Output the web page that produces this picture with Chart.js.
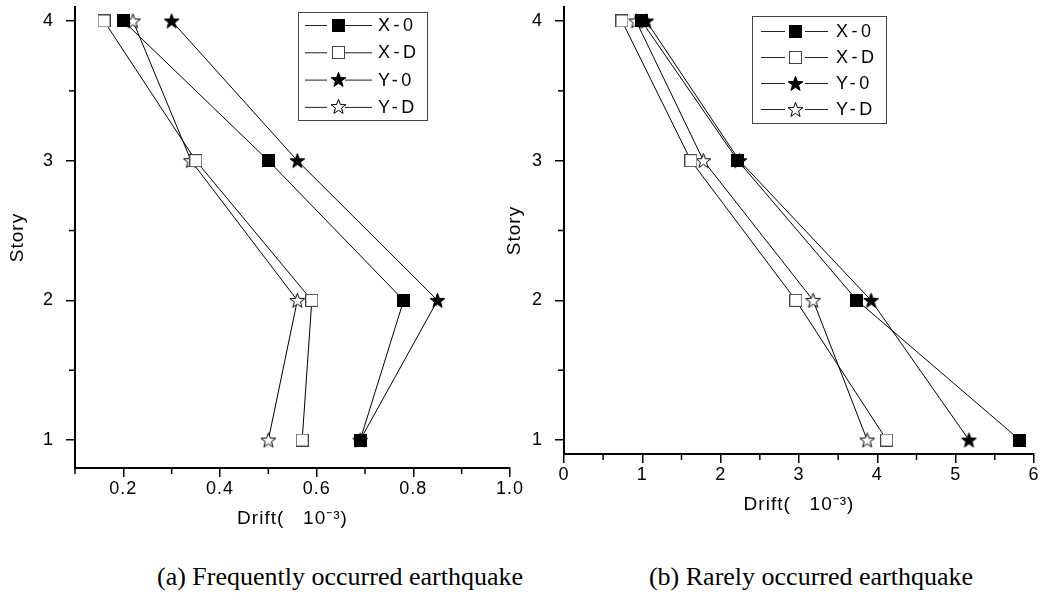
<!DOCTYPE html>
<html>
<head>
<meta charset="utf-8">
<script src="https://cdn.jsdelivr.net/npm/chart.js@4.4.0/dist/chart.umd.min.js"></script>
<style>
  body { margin: 0; background: #fff; width: 1045px; height: 597px; position: relative; overflow: hidden; }
  .box { position: absolute; top: 0; }
  .cap { position: absolute; top: 562px; font-family: "Liberation Serif", "Times New Roman", serif; font-size: 26px; color: #000; white-space: nowrap; transform: translateX(-50%); }
</style>
</head>
<body>
<div class="box" style="left:0"><canvas id="chartA" width="530" height="540"></canvas></div>
<div class="box" style="left:500px"><canvas id="chartB" width="545" height="540"></canvas></div>
<div class="cap" style="left:340px">(a) Frequently occurred earthquake</div>
<div class="cap" style="left:811px">(b) Rarely occurred earthquake</div>
<script>
// stories on the vertical axis
const stories = [1, 2, 3, 4];
const seriesNames = ['X-0', 'X-D', 'Y-0', 'Y-D'];

// (a) frequently occurred earthquake, drift (10^-3) per story 1..4
const freqX0 = [0.69, 0.78, 0.50, 0.20];
const freqXD = [0.57, 0.59, 0.35, 0.16];
const freqY0 = [0.69, 0.85, 0.56, 0.30];
const freqYD = [0.50, 0.56, 0.34, 0.22];

// (b) rarely occurred earthquake
const rareX0 = [5.82, 3.74, 2.22, 0.99];
const rareXD = [4.12, 2.96, 1.62, 0.74];
const rareY0 = [5.17, 3.92, 2.24, 1.05];
const rareYD = [3.87, 3.18, 1.78, 0.92];

// ticks
const freqXTicks = [0.2, 0.4, 0.6, 0.8, 1.0];
const freqXMinor = [0.1, 0.3, 0.5, 0.7, 0.9];
const rareXTicks = [0, 1, 2, 3, 4, 5, 6];
const rareXMinor = [0.5, 1.5, 2.5, 3.5, 4.5, 5.5];
const storyTicks = [1, 2, 3, 4];
const storyMinor = [1.5, 2.5, 3.5];

const xTitle = 'Drift(   10⁻³)';
const yTitle = 'Story';

Chart.defaults.font.family = '"Liberation Sans", Arial, sans-serif';
Chart.defaults.color = '#000';

// marker pictures (Origin style symbols)
function marker(shape, fill, stroke) {
  const c = document.createElement('canvas');
  const s = shape === 'star' ? 17 : 13;
  c.width = s; c.height = s;
  const g = c.getContext('2d');
  g.fillStyle = fill;
  g.strokeStyle = stroke;
  g.lineWidth = 1;
  if (shape === 'square') {
    g.fillRect(0.5, 0.5, s - 1, s - 1);
    g.strokeRect(0.5, 0.5, s - 1, s - 1);
  } else {
    const cx = s / 2, cy = s / 2 + 0.6, ro = 7.8, ri = 3.2;
    g.beginPath();
    for (let i = 0; i < 10; i++) {
      const r = i % 2 ? ri : ro;
      const a = -Math.PI / 2 + i * Math.PI / 5;
      g.lineTo(cx + r * Math.cos(a), cy + r * Math.sin(a));
    }
    g.closePath();
    g.fill();
    g.stroke();
  }
  return c;
}
const markers = [
  marker('square', '#000', '#000'),
  marker('square', '#fff', '#444'),
  marker('star', '#000', '#000'),
  marker('star', '#fff', '#000')
];

// the Origin export has slightly spaced lettering
const spacing = {
  id: 'spacing',
  beforeDraw(chart) { chart.ctx.letterSpacing = '1px'; }
};

const minorTicks = {
  id: 'minorTicks',
  afterDraw(chart, args, o) {
    const ctx = chart.ctx, xs = chart.scales.x, ys = chart.scales.y;
    ctx.save();
    ctx.strokeStyle = '#000';
    ctx.lineWidth = 1.5;
    o.x.forEach(v => {
      const p = xs.getPixelForValue(v);
      ctx.beginPath(); ctx.moveTo(p, xs.top); ctx.lineTo(p, xs.top + o.len); ctx.stroke();
    });
    o.y.forEach(v => {
      const p = ys.getPixelForValue(v);
      ctx.beginPath(); ctx.moveTo(ys.right, p); ctx.lineTo(ys.right - o.len, p); ctx.stroke();
    });
    ctx.restore();
  }
};

const lineLegend = {
  id: 'lineLegend',
  afterDraw(chart, args, o) {
    const ctx = chart.ctx;
    ctx.save();
    ctx.strokeStyle = '#444';
    ctx.lineWidth = 1;
    ctx.strokeRect(o.left + 0.5, o.top + 0.5, o.width, o.height);
    ctx.font = '18px "Liberation Sans", Arial, sans-serif';
    ctx.letterSpacing = '3.5px';
    ctx.fillStyle = '#000';
    ctx.textBaseline = 'middle';
    chart.data.datasets.forEach((ds, i) => {
      const y = o.top + o.row0 + i * o.rowGap;
      const mx = o.left + o.markX;
      ctx.strokeStyle = '#222';
      ctx.beginPath();
      ctx.moveTo(o.left + o.line1[0], y + 0.5); ctx.lineTo(o.left + o.line1[1], y + 0.5);
      ctx.moveTo(o.left + o.line2[0], y + 0.5); ctx.lineTo(o.left + o.line2[1], y + 0.5);
      ctx.stroke();
      const img = ds.pointStyle;
      ctx.drawImage(img, Math.round(mx - img.width / 2), Math.round(y - img.height / 2));
      ctx.fillText(ds.label, o.left + o.textX, y + 1);
    });
    ctx.restore();
  }
};

function buildDatasets(series) {
  return series.map((vals, i) => ({
    label: seriesNames[i],
    data: vals.map((v, k) => ({ x: v, y: stories[k] })),
    showLine: true,
    borderColor: '#000',
    borderWidth: 1,
    pointStyle: markers[i],
    pointRadius: 6,
    clip: false
  }));
}

function makeChart(id, series, p) {
  return new Chart(document.getElementById(id), {
    type: 'scatter',
    data: { datasets: buildDatasets(series) },
    options: {
      responsive: false,
      animation: false,
      events: [],
      layout: { padding: { top: 7, right: p.padRight, left: 0, bottom: 0 } },
      plugins: {
        legend: { display: false },
        tooltip: { enabled: false },
        minorTicks: { x: p.xMinor, y: storyMinor, len: 6 },
        lineLegend: p.legend
      },
      scales: {
        x: {
          type: 'linear',
          min: p.xMin, max: p.xMax,
          afterBuildTicks: s => { s.ticks = p.xTicks.map(v => ({ value: v })); },
          afterFit: s => { s.height = p.xHeight; s.paddingLeft = 0; s.paddingRight = 0; },
          ticks: { autoSkip: false, maxRotation: 0, padding: 1, font: { size: 18 }, color: '#000', callback: p.xFmt },
          grid: { drawOnChartArea: false, drawTicks: true, tickLength: 9, color: '#000', lineWidth: 1.5 },
          border: { display: true, color: '#000', width: 2 },
          title: { display: true, text: xTitle, font: { size: 19 }, color: '#000', padding: { top: 0, bottom: p.xTitlePad } }
        },
        y: {
          type: 'linear',
          min: p.yMin, max: 4.1,
          afterBuildTicks: s => { s.ticks = storyTicks.map(v => ({ value: v })); },
          afterFit: s => { s.width = p.yWidth; s.paddingTop = 0; s.paddingBottom = 0; },
          ticks: { padding: 12, font: { size: 18 }, color: '#000', callback: v => String(v) },
          grid: { drawOnChartArea: false, drawTicks: true, tickLength: 9, color: '#000', lineWidth: 1.5 },
          border: { display: true, color: '#000', width: 2 },
          title: { display: true, text: yTitle, font: { size: 19 }, color: '#000', padding: { top: p.yTitlePad, bottom: 0 } }
        }
      }
    },
    plugins: [spacing, minorTicks, lineLegend]
  });
}

makeChart('chartA', [freqX0, freqXD, freqY0, freqYD], {
  xMin: 0.1, xMax: 1.0, yMin: 0.8,
  xTicks: freqXTicks, xMinor: freqXMinor, xFmt: v => v.toFixed(1),
  padRight: 20, xHeight: 72, yWidth: 75, xTitlePad: 10, yTitlePad: 6,
  legend: { left: 298, top: 12, width: 129, height: 108, row0: 13, rowGap: 27.3,
            line1: [7, 29], markX: 40, line2: [47, 74], textX: 80 }
});

makeChart('chartB', [rareX0, rareXD, rareY0, rareYD], {
  xMin: 0, xMax: 6, yMin: 0.9,
  xTicks: rareXTicks, xMinor: rareXMinor, xFmt: v => String(v),
  padRight: 11, xHeight: 86, yWidth: 64, xTitlePad: 24, yTitlePad: 3,
  legend: { left: 252, top: 16, width: 134, height: 107, row0: 15, rowGap: 26,
            line1: [9, 33], markX: 43, line2: [53, 76], textX: 84 }
});
</script>
</body>
</html>
